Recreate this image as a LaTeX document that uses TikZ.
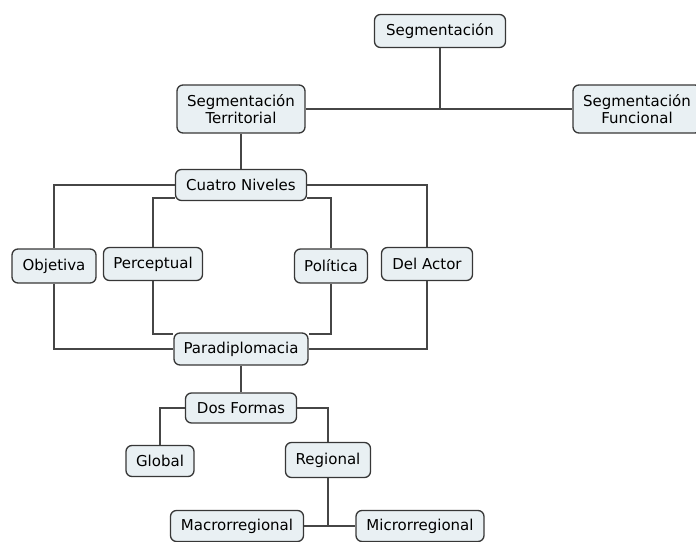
\documentclass[tikz,border=0pt]{standalone}
\usepackage{fontspec}
\setmainfont{DejaVu Sans}
\definecolor{boxfill}{RGB}{233,240,243}
\definecolor{boxline}{RGB}{55,55,55}
\definecolor{linkline}{RGB}{70,70,70}
\begin{document}
\begin{tikzpicture}[x=1pt,y=-1pt,
  concept/.style={draw=boxline, fill=boxfill, line width=1.3pt, rounded corners=6pt,
    font=\fontsize{15}{17}\selectfont, align=center, inner sep=0pt},
  link/.style={draw=linkline, line width=1.5pt}]
\useasboundingbox (0,0) rectangle (696,541);

% concepts
\node[concept, minimum width=131pt, minimum height=33pt] (seg) at (440,31) {Segmentación};
\node[concept, minimum width=128pt, minimum height=48pt] (segT) at (241,109) {Segmentación\\Territorial};
\node[concept, minimum width=128pt, minimum height=48pt] (segF) at (637,109) {Segmentación\\Funcional};
\node[concept, minimum width=131pt, minimum height=31pt] (cn) at (241,185) {Cuatro Niveles};
\node[concept, minimum width=84pt, minimum height=34pt] (obj) at (54,266) {Objetiva};
\node[concept, minimum width=99pt, minimum height=33pt] (per) at (153,264) {Perceptual};
\node[concept, minimum width=73pt, minimum height=34pt] (pol) at (331,266) {Política};
\node[concept, minimum width=91pt, minimum height=33pt] (act) at (427,264) {Del Actor};
\node[concept, minimum width=134pt, minimum height=32pt] (pd) at (241,349) {Paradiplomacia};
\node[concept, minimum width=111pt, minimum height=30pt] (df) at (241,408) {Dos Formas};
\node[concept, minimum width=68pt, minimum height=31pt] (glo) at (160,461) {Global};
\node[concept, minimum width=85pt, minimum height=35pt] (reg) at (328,460) {Regional};
\node[concept, minimum width=133pt, minimum height=31pt] (mac) at (237,526) {Macrorregional};
\node[concept, minimum width=128pt, minimum height=31pt] (mic) at (420,526) {Microrregional};

% links
\draw[link] (seg.south) -- (seg.south |- segT.east);
\draw[link] (segT.east) -- (segF.west);
\draw[link] (segT.south) -- (cn.north);
\draw[link] (cn.west) -| (obj.north);
\draw[link] (cn.east) -| (act.north);
\draw[link] ([yshift=-13pt]cn.west) -| (per.north);
\draw[link] ([yshift=-13pt]cn.east) -| (pol.north);
\draw[link] (obj.south) |- (pd.west);
\draw[link] (act.south) |- (pd.east);
\draw[link] (per.south) |- ([yshift=15pt]pd.west);
\draw[link] (pol.south) |- ([yshift=15pt]pd.east);
\draw[link] (pd.south) -- (df.north);
\draw[link] (df.west) -| (glo.north);
\draw[link] (df.east) -| (reg.north);
\draw[link] (reg.south) -- (reg.south |- mac.east);
\draw[link] (mac.east) -- (mic.west);
\end{tikzpicture}
\end{document}
